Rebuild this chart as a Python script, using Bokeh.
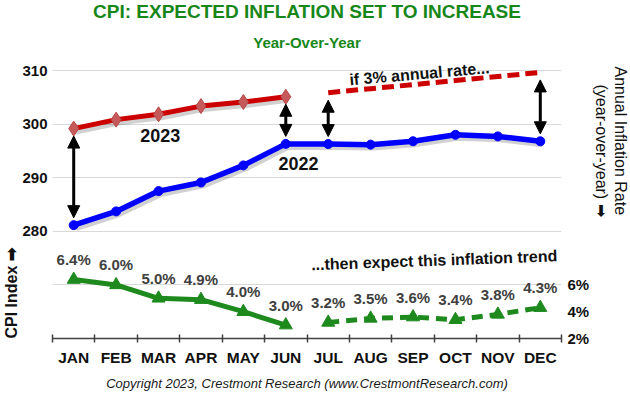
import math
import numpy as np
from bokeh.plotting import figure
from bokeh.models import (Range1d, LinearAxis, FixedTicker, CustomJSTickFormatter,
                          PrintfTickFormatter, Label, LabelSet, ColumnDataSource, Arrow,
                          NormalHead, Title)
from bokeh.core.properties import value
from bokeh.embed import file_html
from bokeh.resources import INLINE

# ---------------- data ----------------
months = ["JAN", "FEB", "MAR", "APR", "MAY", "JUN", "JUL", "AUG", "SEP", "OCT", "NOV", "DEC"]
cpi_2022 = [281.148, 283.716, 287.504, 289.109, 292.296, 296.311,
            296.276, 296.171, 296.808, 298.012, 297.711, 296.797]
cpi_2023 = [299.170, 300.840, 301.836, 303.363, 304.127, 305.109]
cpi_2023_if3 = [305.86, 306.62, 307.37, 308.13, 308.89, 309.65]
yoy_actual = [6.4, 6.0, 5.0, 4.9, 4.0, 3.0]
yoy_expected = [3.2, 3.5, 3.6, 3.4, 3.8, 4.3]
cpi_ticks = [280, 290, 300, 310]
pct_ticks = [2, 4, 6]
grid_levels = [270, 280, 290, 300, 310]

# ---------------- style ----------------
FONT = "Liberation Sans"
GREEN = "#1E8A1E"
TITLE_GREEN = "#17871A"
RED = "#CC0000"
BLUE = "#0000FF"
GRAY = "#404040"

x_all = np.arange(len(months)) + 0.5
x_h1 = x_all[:6]
x_h2 = x_all[6:]

p = figure(width=630, height=396, x_range=Range1d(0, 12), y_range=Range1d(260, 311.5),
           output_backend="svg", toolbar_location=None,
           min_border_left=10, min_border_right=10, min_border_top=10, min_border_bottom=10)
p.outline_line_color = None
p.background_fill_color = "white"
p.border_fill_color = "white"
p.extra_y_ranges = {"pct": Range1d(2, 22.6)}

# ---------------- titles (layout panels) ----------------
sub = Title(text="Year-Over-Year", align="center", vertical_align="top", standoff=20,
            text_font=FONT, text_font_size="15px", text_font_style="bold",
            text_line_height=1.0, text_color=TITLE_GREEN)
main = Title(text="CPI: EXPECTED INFLATION SET TO INCREASE", align="center",
             vertical_align="top", standoff=0, text_line_height=0.7,
             text_font=FONT, text_font_size="19px", text_font_style="bold",
             text_color=TITLE_GREEN)
p.add_layout(sub, "above")
p.add_layout(main, "above")

# x axis: ticks at month boundaries, labels at centres
xa = p.xaxis[0]
xa.ticker = FixedTicker(ticks=list(x_all), minor_ticks=list(range(13)))
xa.formatter = CustomJSTickFormatter(args=dict(months=months),
                                     code="return months[Math.floor(tick)] || '';")
xa.major_tick_line_color = None
xa.major_tick_in = 0
xa.major_tick_out = 0
xa.minor_tick_line_color = GRAY
xa.minor_tick_line_width = 1.5
xa.minor_tick_in = 4
xa.minor_tick_out = 4
xa.axis_line_color = GRAY
xa.axis_line_width = 1.5
xa.major_label_text_font = FONT
xa.major_label_text_font_size = "15.5px"
xa.major_label_text_font_style = "bold"
xa.major_label_text_color = "#111111"
xa.major_label_standoff = 6

copy_t = Title(text="Copyright 2023, Crestmont Research (www.CrestmontResearch.com)",
               align="center", standoff=11, text_font=FONT, text_font_size="13px",
               text_font_style="italic", text_color="#1A1A1A")
p.add_layout(copy_t, "below")

# left CPI axis + caption
ya = p.yaxis[0]
ya.ticker = FixedTicker(ticks=cpi_ticks)
ya.axis_line_color = None
ya.major_tick_line_color = None
ya.minor_tick_line_color = None
ya.major_tick_in = 0
ya.major_tick_out = 0
ya.major_label_text_font = FONT
ya.major_label_text_font_size = "15px"
ya.major_label_text_font_style = "bold"
ya.major_label_text_color = "#111111"
ya.major_label_standoff = 5

left_cap = Title(text="CPI Index \u27A1", align="left", standoff=0, text_line_height=1.0,
                 text_font=FONT, text_font_size="16px", text_font_style="bold",
                 text_color="#111111")
p.add_layout(left_cap, "left")

# right inflation-rate axis + captions
ra = LinearAxis(y_range_name="pct", ticker=FixedTicker(ticks=pct_ticks),
                formatter=PrintfTickFormatter(format="%d%%"))
ra.axis_line_color = None
ra.major_tick_line_color = None
ra.minor_tick_line_color = None
ra.major_tick_in = 0
ra.major_tick_out = 0
ra.major_label_text_font = FONT
ra.major_label_text_font_size = "15px"
ra.major_label_text_font_style = "bold"
ra.major_label_text_color = "#111111"
ra.major_label_standoff = 6
p.add_layout(ra, "right")

yoy_cap = Title(text="(year-over-year) \u27A1", align="left", offset=22, standoff=0,
                text_line_height=1.0, text_font=FONT, text_font_size="16px",
                text_font_style="normal", text_color="#111111")
ann_cap = Title(text="Annual Inflation Rate", align="left", offset=4, standoff=0,
                text_line_height=1.0, text_font=FONT, text_font_size="16px",
                text_font_style="normal", text_color="#111111")
p.add_layout(yoy_cap, "right")
p.add_layout(ann_cap, "right")

p.xgrid.grid_line_color = None
p.ygrid.ticker = FixedTicker(ticks=grid_levels)
p.ygrid.grid_line_color = "#D9D9D9"
p.ygrid.grid_line_width = 1.2

# ---------------- CPI lines (with a soft drop shadow) ----------------
sh_dx, sh_dy = 0.05, -0.45
p.line(x_h1 + sh_dx, np.array(cpi_2023) + sh_dy, line_color="#000000", line_alpha=0.18, line_width=7)
p.line(x_all + sh_dx, np.array(cpi_2022) + sh_dy, line_color="#000000", line_alpha=0.18, line_width=7)

p.line(x_h1, cpi_2023, line_color=RED, line_width=5, line_join="round")
p.scatter(x_h1, cpi_2023, marker="diamond", size=15, fill_color="#C65A5A", line_color="#B84848")
p.line(x_h2, cpi_2023_if3, line_color=RED, line_width=5, line_dash="12 6")

p.line(x_all, cpi_2022, line_color=BLUE, line_width=5.5, line_join="round")
p.scatter(x_all, cpi_2022, marker="circle", size=9, fill_color=BLUE, line_color=BLUE)

# ---------------- inflation rate ----------------
p.line(x_h1, yoy_actual, y_range_name="pct", line_color=GREEN, line_width=5, line_join="round")
p.scatter(x_h1, yoy_actual, y_range_name="pct", marker="triangle", size=13,
          fill_color=GREEN, line_color=GREEN)
p.line(x_h2, yoy_expected, y_range_name="pct", line_color=GREEN, line_width=5, line_dash="11 7")
p.scatter(x_h2, yoy_expected, y_range_name="pct", marker="triangle", size=13,
          fill_color=GREEN, line_color=GREEN)

# ---------------- in-plot texts ----------------
def dlabel(x, y, text, size, angle=0.0, color="#111111", style="bold"):
    p.add_layout(Label(x=x, y=y, text=text, angle=angle, text_align="center",
                       text_baseline="middle", text_font=FONT, text_font_size=size,
                       text_font_style=style, text_color=color))

dlabel(2.54, 297.9, "2023", "18px")
dlabel(5.8, 292.6, "2022", "18px")
dlabel(8.65, 309.4, "if 3% annual rate...", "16px", angle=math.radians(5))
dlabel(9.0, 274.6, "...then expect this inflation trend", "16px", angle=math.radians(2.1))

pct_src = ColumnDataSource(dict(
    x=list(x_all), y=yoy_actual + yoy_expected,
    t=[f"{v:.1f}%" for v in yoy_actual + yoy_expected]))
p.add_layout(LabelSet(x="x", y="y", text="t", source=pct_src, y_range_name="pct",
                      y_offset=20, text_align="center", text_baseline="middle",
                      text_font=value(FONT), text_font_size=value("15px"),
                      text_font_style="bold", text_color=GRAY))

# ---------------- gap arrows ----------------
gap = 1.4
def gap_arrow(x, lo, hi):
    head = dict(size=12, fill_color="black", line_color="black")
    p.add_layout(Arrow(x_start=x, y_start=lo + gap, x_end=x, y_end=hi - gap,
                       start=NormalHead(**head), end=NormalHead(**head),
                       line_color="black", line_width=3))

gap_arrow(x_all[0], cpi_2022[0], cpi_2023[0])
gap_arrow(x_all[5], cpi_2022[5], cpi_2023[5])
gap_arrow(x_all[6], cpi_2022[6], cpi_2023_if3[0])
gap_arrow(x_all[11], cpi_2022[11], cpi_2023_if3[-1])

open("out.html", "w").write(file_html(p, INLINE))
